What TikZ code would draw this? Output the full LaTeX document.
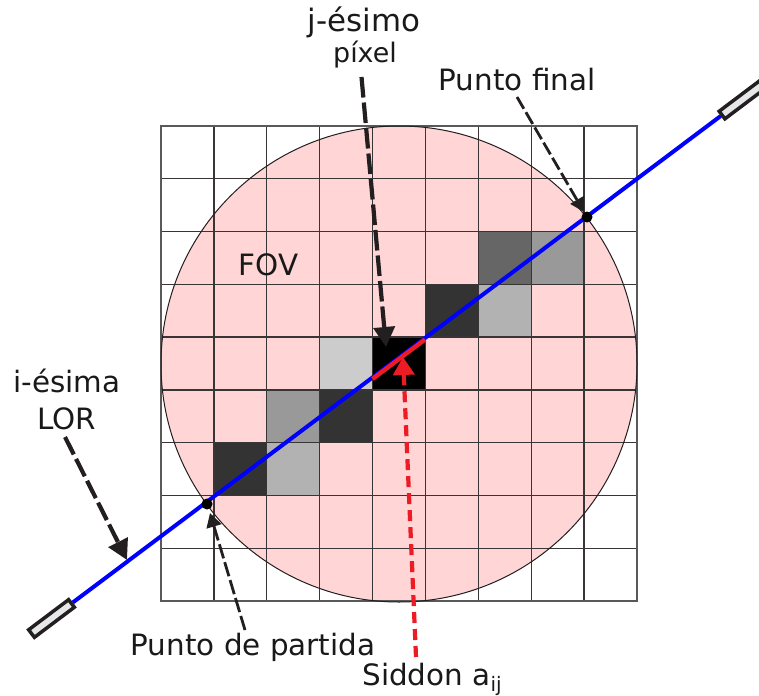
\documentclass[tikz,border=0pt]{standalone}
\usepackage{fontspec}
\setmainfont{DejaVu Sans}
\usetikzlibrary{arrows.meta}
\definecolor{pinkfov}{HTML}{FFD5D5}
\definecolor{inkk}{HTML}{231F20}
\definecolor{redd}{HTML}{ED1C24}
\definecolor{detfill}{HTML}{E6E7E8}
\tikzset{
  lab/.style={anchor=base,inner sep=0pt,font=\fontsize{29.5}{32}\selectfont,text=black!90},
  biglab/.style={anchor=base,inner sep=0pt,font=\fontsize{31}{34}\selectfont,text=black!90},
  smalllab/.style={anchor=base,inner sep=0pt,font=\fontsize{27}{30}\selectfont,text=black!90},
  detector/.style={draw=inkk,line width=3.5bp,fill=detfill,minimum width=50bp,minimum height=9.5bp,inner sep=0pt,rotate=37},
  dot/.style={circle,fill=black,minimum size=11bp,inner sep=0pt},
  lor/.style={draw=blue,line width=4bp},
  seg/.style={draw=redd,line width=4.4bp},
  gridline/.style={draw=inkk!90,line width=1.3bp},
  arrowbig/.style={draw=inkk,line width=4.2bp,dash pattern=on 19.5bp off 5bp,-{Triangle[length=20bp,width=21bp,fill=inkk]}},
  arrowlong/.style={arrowbig,dash pattern=on 20.6bp off 5bp},
  arrowthin/.style={draw=inkk,line width=2.8bp,dash pattern=on 13.6bp off 4bp,-{Triangle[length=14bp,width=15bp,fill=inkk]}},
  arrowthinb/.style={arrowthin,dash pattern=on 14.7bp off 4bp},
  arrowred/.style={draw=redd,line width=4.2bp,dash pattern=on 11bp off 6bp,-{Triangle[length=18bp,width=21bp,fill=redd]}},
}
\begin{document}
\begin{tikzpicture}[x=1bp,y=-1bp]
\useasboundingbox (0,0) rectangle (759,696);
\clip (0,0) rectangle (759,696);
% FOV disc
\fill[pinkfov] (399,364) circle[radius=238];
% grey pixels
\foreach \c/\r/\g in {6/2/40,7/2/60,5/3/20,6/3/70,3/4/80,4/4/0,2/5/60,3/5/20,1/6/20,2/6/70}{
  \fill[black!\the\numexpr100-\g\relax] ({161+52.89*\c},{126+52.78*\r}) rectangle ({161+52.89*(\c+1)},{126+52.78*(\r+1)});
}
% grid
\foreach \i in {1,...,8}{
  \draw[gridline] ({161+52.89*\i},126) -- ({161+52.89*\i},601);
  \draw[gridline] (161,{126+52.78*\i}) -- (637,{126+52.78*\i});
}
\draw[black!65,line width=1.5bp] (161,126) rectangle (637,601);
\draw[inkk,line width=1bp] (399,364) circle[radius=238];
% detectors and LOR
\node[detector] (detA) at (51.5,618.5) {};
\node[detector] (detB) at (742,100) {};
\path[lor] (detA) -- (detB);
\coordinate (segA) at (372.5,379);
\coordinate (segB) at (425,339.5);
\path[seg] (segA) -- (segB);
\node[dot] (start) at (207,504) {};
\node[dot] (end) at (587,217) {};
% labels
\node[biglab] (jes) at (364,32) {j-ésimo};
\node[smalllab] (pix) at (365,63) {píxel};
\node[lab] (pfin) at (517,91) {Punto final};
\node[lab] (fov) at (268.5,275) {FOV};
\node[lab] (ies) at (67,392) {i-ésima};
\node[lab] (lorl) at (66.5,429) {LOR};
\node[lab] (ppar) at (253,655) {Punto de partida};
\node[lab] (sid) at (432,685) {Siddon a\raisebox{-6bp}{\fontsize{20}{22}\selectfont ij}};
% connector ends
\coordinate (a1) at (361.5,77);   \coordinate (a2) at (386,347);
\coordinate (b1) at (517,97);     \coordinate (b2) at (584,212);
\coordinate (c1) at (65,437);     \coordinate (c2) at (127,560);
\coordinate (d1) at (245,630);    \coordinate (d2) at (210,513);
\coordinate (e1) at (416,657);    \coordinate (e2) at (403,357);
\draw[arrowlong] (a1) -- (a2);
\draw[arrowbig] (c1) -- (c2);
\draw[arrowthin] (b1) -- (b2);
\draw[arrowthinb] (d1) -- (d2);
\draw[arrowred] (e1) -- (e2);
\end{tikzpicture}
\end{document}
